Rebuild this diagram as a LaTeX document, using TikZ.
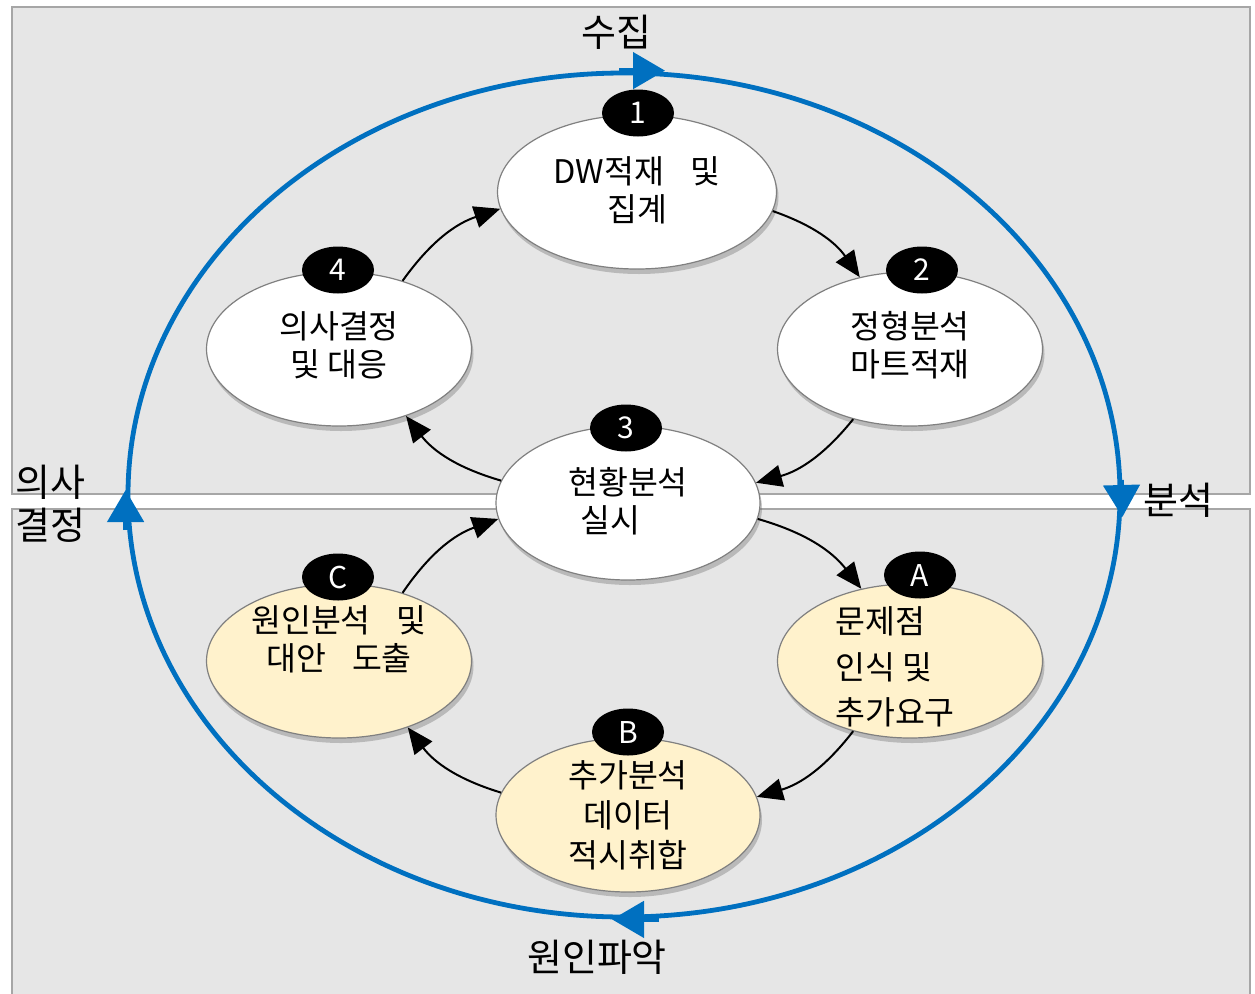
\documentclass[tikz,border=0pt]{standalone}
\usepackage{fontspec}
\setmainfont{Noto Sans CJK KR}
\usetikzlibrary{shapes.geometric,shadows,arrows.meta,calc}
\definecolor{cycblue}{HTML}{0070C0}
\definecolor{panelgray}{HTML}{E6E6E6}
\definecolor{panelline}{HTML}{A6A6A6}
\definecolor{noteyellow}{HTML}{FFF2CC}
\begin{document}
\begin{tikzpicture}[x=1pt,y=-1pt,
  panel/.style={fill=panelgray,draw=panelline,line width=2pt},
  stage/.style={ellipse,draw=black!50,line width=1.2pt,fill=white,inner sep=0pt,
    minimum width=265pt,minimum height=154pt,
    drop shadow={shadow xshift=2pt,shadow yshift=-5pt,opacity=0.35,fill=black!60}},
  cause/.style={stage,fill=noteyellow},
  badge/.style={ellipse,fill=black,minimum width=72pt,minimum height=47pt,inner sep=0pt,
    text=white,font=\fontsize{30}{32}\selectfont},
  body/.style={font=\fontsize{32.5}{38}\selectfont,align=center,inner sep=0pt},
  flow/.style={-{Triangle[length=26pt,width=22pt]},line width=2pt,bend left=18},
  cyctip/.style={-{Triangle[length=32pt,width=36pt]},line width=4.8pt,draw=cycblue},
  outer/.style={font=\fontsize{38}{42}\selectfont,inner sep=0pt,align=left}]

\useasboundingbox (0,0) rectangle (1255,993);
\fill[white] (0,0) rectangle (1255,993);
\draw[panel] (12,7) rectangle (1250,494);
\draw[panel] (12,509) rectangle (1250,1010);

% big cycle
\node[ellipse,draw=cycblue,line width=4.8pt,minimum width=992pt,minimum height=844pt,inner sep=0pt] (cyc) at (624,495) {};
\draw[cyctip] ($(cyc.north)+(-5,0)$) -- ($(cyc.north)+(41,0)$);
\draw[cyctip] ($(cyc.east)+(-1,-15)$) -- ($(cyc.east)+(0,22)$);
\draw[cyctip] ($(cyc.west)+(0,35)$) -- ($(cyc.west)+(0,-5)$);
\draw[cyctip] ($(cyc.south)+(35,0)$) -- ($(cyc.south)+(-12,0)$);

% outer labels
\node[outer] (lcollect) at (616,32) {수집};
\node[outer,anchor=west] (lanalyze) at (1143,500) {분석};
\node[outer,anchor=west] (ldecide1) at (15,482) {의사};
\node[outer,anchor=west] (ldecide2) at (15,525) {결정};
\node[outer] (lcause) at (597,957) {원인파악};

% stages
\node[stage,minimum width=279pt] (e1) at (637,192) {};
\node[stage] (e2) at (910,349) {};
\node[stage,minimum width=264pt] (e3) at (628,503) {};
\node[stage] (e4) at (339,349) {};
\node[cause] (eA) at (910,661) {};
\node[cause,minimum width=264pt] (eB) at (628,815) {};
\node[cause] (eC) at (339,661) {};

% texts
\node[body] (t1) at (637,190) {DW적재\hspace{0.8em}및\\집계};
\node[body] (t2) at (910,345) {정형분석\\마트적재};
\node[body] (t3) at (628,501) {현황분석\\실시\hspace*{1.1em}};
\node[body] (t4) at (339,345) {의사결정\\및 대응};
\node[body,align=left,font=\fontsize{32.5}{45.5}\selectfont] (tA) at (895,667) {문제점\\인식 및\\추가요구};
\node[body,font=\fontsize{32.5}{40}\selectfont] (tB) at (628,815) {추가분석\\데이터\\적시취합};
\node[body] (tC) at (339,639) {원인분석\hspace{0.8em}및\\대안\hspace{0.8em}도출};

% badges
\node[badge] (b1) at (638,113) {1};
\node[badge] (b2) at (922,270) {2};
\node[badge] (b3) at (626,428) {3};
\node[badge] (b4) at (338,270) {4};
\node[badge] (bA) at (920,575) {A};
\node[badge] (bB) at (628,732) {B};
\node[badge] (bC) at (338,577) {C};

% flows
\draw[flow] (e4.47) to (e1.187);
\draw[flow] (e1.-8) to (e2.125);
\draw[flow] (e2.231) to (e3.9);
\draw[flow] (e3.170) to (e4.-45);
\draw[flow] (e3.-7) to (eA.124);
\draw[flow] (eA.231) to (eB.8);
\draw[flow] (eB.170) to (eC.-44);
\draw[flow] (eC.47) to (e3.187);
\end{tikzpicture}
\end{document}
